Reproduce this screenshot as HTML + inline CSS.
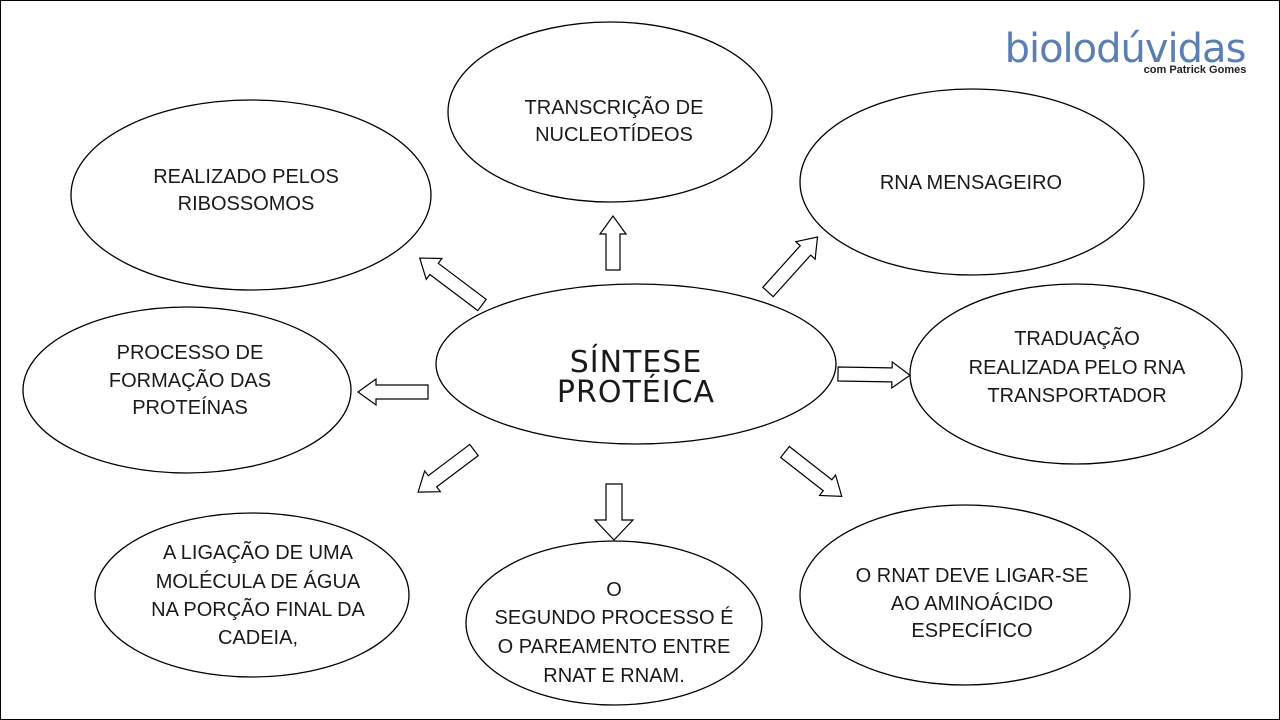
<!DOCTYPE html>
<html><head><meta charset="utf-8"><style>
html,body{margin:0;padding:0;background:#fff}
svg{display:block}
text{font-family:"Liberation Sans",sans-serif;font-size:20px;fill:#1a1a1a;text-anchor:middle}
.c{font-family:"DejaVu Sans","Liberation Sans",sans-serif;font-size:30px;font-weight:normal;letter-spacing:1px}
</style></head><body>
<svg width="1280" height="720" viewBox="0 0 1280 720">
<rect x="0.5" y="0.5" width="1279" height="719" fill="#fff" stroke="#000"/>
<g fill="#fff" stroke="#000" stroke-width="1.3">
<ellipse cx="610" cy="112" rx="162" ry="90"/>
<ellipse cx="251" cy="195" rx="180" ry="95"/>
<ellipse cx="972" cy="182" rx="172" ry="93"/>
<ellipse cx="636" cy="364" rx="200" ry="80"/>
<ellipse cx="187" cy="390" rx="164" ry="83"/>
<ellipse cx="1076" cy="374" rx="166" ry="90"/>
<ellipse cx="252" cy="595" rx="157" ry="82"/>
<ellipse cx="614" cy="623" rx="148" ry="82"/>
<ellipse cx="965" cy="595" rx="165" ry="90"/>
</g>
<g fill="#fff" stroke="#000" stroke-width="1.2">
<polygon transform="translate(613,270) rotate(-90)" points="0,-7 36,-7 36,-13 54,0 36,13 36,7 0,7"/>
<polygon transform="translate(482,305) rotate(-143)" points="0,-7 60,-7 60,-13 78,0 60,13 60,7 0,7"/>
<polygon transform="translate(768,292) rotate(-48)" points="0,-7 56,-7 56,-13 74,0 56,13 56,7 0,7"/>
<polygon transform="translate(428,392) rotate(180)" points="0,-7 52,-7 52,-13 70,0 52,13 52,7 0,7"/>
<polygon transform="translate(838,374) rotate(1)" points="0,-7 54,-7 54,-13 72,0 54,13 54,7 0,7"/>
<polygon transform="translate(474,450) rotate(143)" points="0,-7 52,-7 52,-13 70,0 52,13 52,7 0,7"/>
<polygon transform="translate(614,484) rotate(90)" points="0,-8 36,-8 36,-19 56,0 36,19 36,8 0,8"/>
<polygon transform="translate(785,452) rotate(38)" points="0,-7 54,-7 54,-13 72,0 54,13 54,7 0,7"/>
</g>
<text x="614" y="114">TRANSCRIÇÃO DE</text><text x="614" y="141">NUCLEOTÍDEOS</text>
<text x="246" y="183">REALIZADO PELOS</text><text x="246" y="210">RIBOSSOMOS</text>
<text x="971" y="189">RNA MENSAGEIRO</text>
<text x="1077" y="345">TRADUAÇÃO</text><text x="1077" y="374">REALIZADA PELO RNA</text><text x="1077" y="402">TRANSPORTADOR</text>
<text x="190" y="359">PROCESSO DE</text><text x="190" y="387">FORMAÇÃO DAS</text><text x="190" y="414">PROTEÍNAS</text>
<text x="258" y="559">A LIGAÇÃO DE UMA</text><text x="258" y="588">MOLÉCULA DE ÁGUA</text><text x="258" y="616">NA PORÇÃO FINAL DA</text><text x="258" y="644">CADEIA,</text>
<text x="614" y="596">O</text><text x="614" y="624">SEGUNDO PROCESSO É</text><text x="614" y="653">O PAREAMENTO ENTRE</text><text x="614" y="682">RNAT E RNAM.</text>
<text x="972" y="582">O RNAT DEVE LIGAR-SE</text><text x="972" y="610">AO AMINOÁCIDO</text><text x="972" y="637">ESPECÍFICO</text>
<text class="c" x="636" y="372">SÍNTESE</text><text class="c" x="636" y="402">PROTÉICA</text>
<text x="1125" y="62" style="font-size:40px;fill:#5b7fb5;font-family:'DejaVu Sans',sans-serif;letter-spacing:-1px">biolodúvidas</text>
<text x="1195" y="73" style="font-size:11px;fill:#222;font-weight:bold">com Patrick Gomes</text>
</svg>
</body></html>
